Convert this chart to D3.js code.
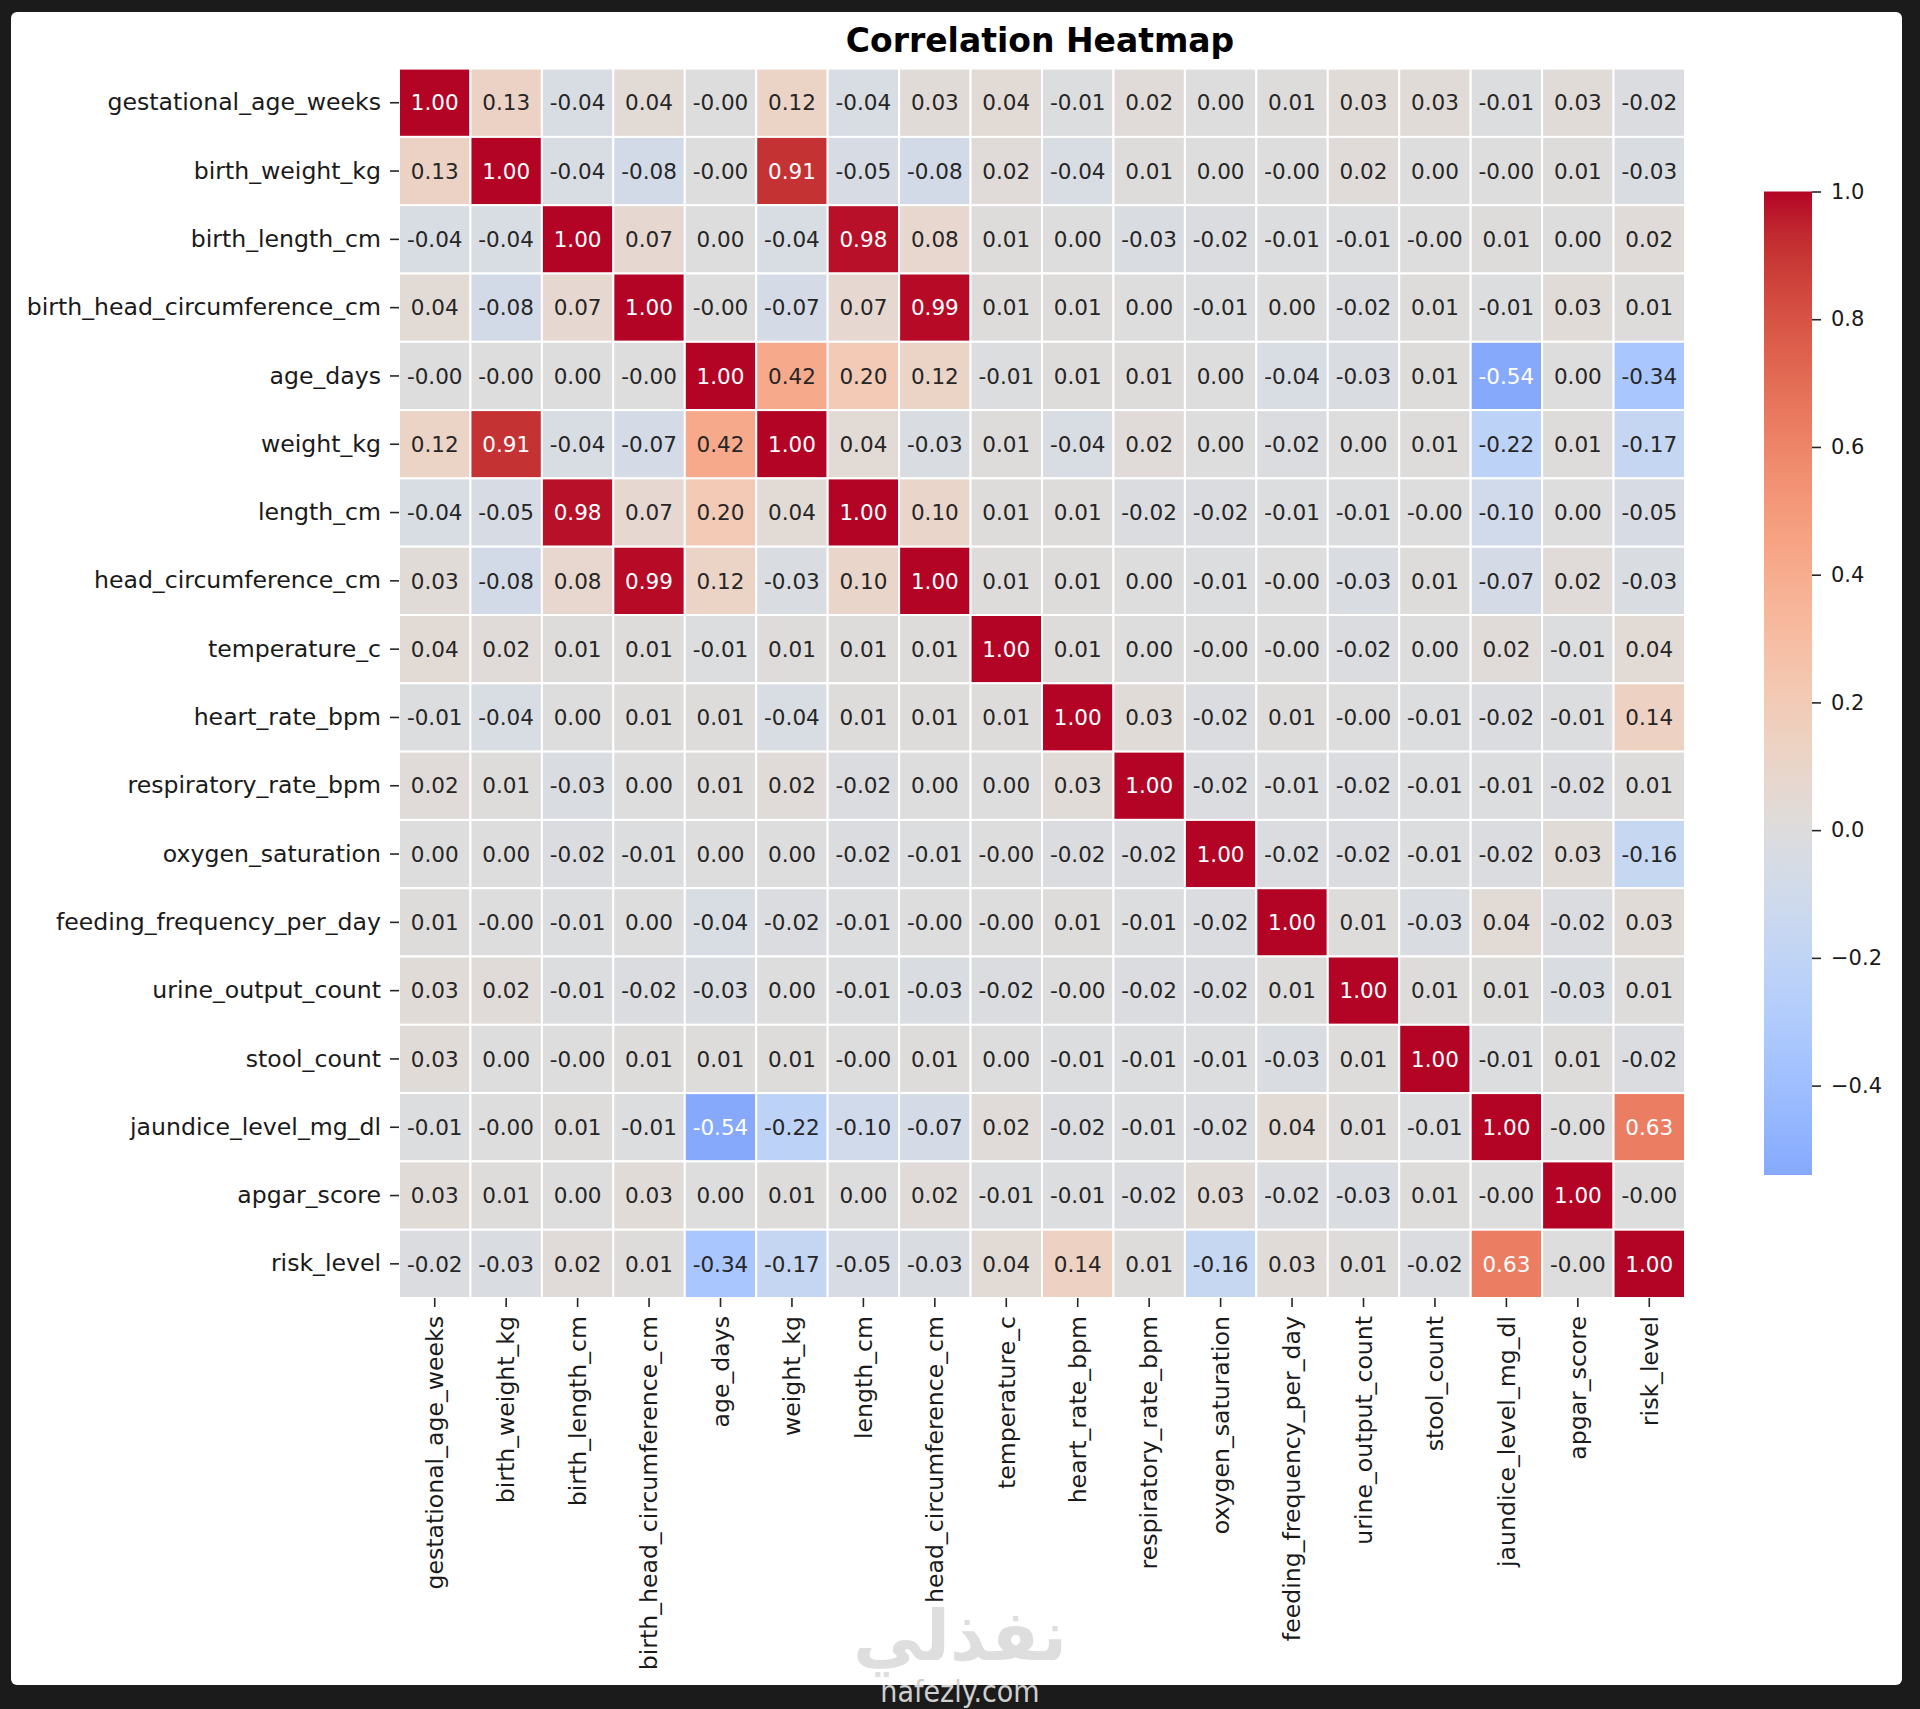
<!DOCTYPE html>
<html>
<head>
<meta charset="utf-8">
<script src="https://cdn.jsdelivr.net/npm/d3@7"></script>
<style>
body { margin: 0; background: #1b1b1b; }
text { font-family: "DejaVu Sans", sans-serif; }
</style>
</head>
<body>
<script>
// variables in the order of the correlation matrix
var labels = ["gestational_age_weeks", "birth_weight_kg", "birth_length_cm", "birth_head_circumference_cm",
  "age_days", "weight_kg", "length_cm", "head_circumference_cm", "temperature_c", "heart_rate_bpm",
  "respiratory_rate_bpm", "oxygen_saturation", "feeding_frequency_per_day", "urine_output_count",
  "stool_count", "jaundice_level_mg_dl", "apgar_score", "risk_level"];

// -0.003 stands for cells printed as "-0.00"
var corr = [
  [1.00, 0.13, -0.04, 0.04, -0.003, 0.12, -0.04, 0.03, 0.04, -0.01, 0.02, 0.00, 0.01, 0.03, 0.03, -0.01, 0.03, -0.02],
  [0.13, 1.00, -0.04, -0.08, -0.003, 0.91, -0.05, -0.08, 0.02, -0.04, 0.01, 0.00, -0.003, 0.02, 0.00, -0.003, 0.01, -0.03],
  [-0.04, -0.04, 1.00, 0.07, 0.00, -0.04, 0.98, 0.08, 0.01, 0.00, -0.03, -0.02, -0.01, -0.01, -0.003, 0.01, 0.00, 0.02],
  [0.04, -0.08, 0.07, 1.00, -0.003, -0.07, 0.07, 0.99, 0.01, 0.01, 0.00, -0.01, 0.00, -0.02, 0.01, -0.01, 0.03, 0.01],
  [-0.003, -0.003, 0.00, -0.003, 1.00, 0.42, 0.20, 0.12, -0.01, 0.01, 0.01, 0.00, -0.04, -0.03, 0.01, -0.54, 0.00, -0.34],
  [0.12, 0.91, -0.04, -0.07, 0.42, 1.00, 0.04, -0.03, 0.01, -0.04, 0.02, 0.00, -0.02, 0.00, 0.01, -0.22, 0.01, -0.17],
  [-0.04, -0.05, 0.98, 0.07, 0.20, 0.04, 1.00, 0.10, 0.01, 0.01, -0.02, -0.02, -0.01, -0.01, -0.003, -0.10, 0.00, -0.05],
  [0.03, -0.08, 0.08, 0.99, 0.12, -0.03, 0.10, 1.00, 0.01, 0.01, 0.00, -0.01, -0.003, -0.03, 0.01, -0.07, 0.02, -0.03],
  [0.04, 0.02, 0.01, 0.01, -0.01, 0.01, 0.01, 0.01, 1.00, 0.01, 0.00, -0.003, -0.003, -0.02, 0.00, 0.02, -0.01, 0.04],
  [-0.01, -0.04, 0.00, 0.01, 0.01, -0.04, 0.01, 0.01, 0.01, 1.00, 0.03, -0.02, 0.01, -0.003, -0.01, -0.02, -0.01, 0.14],
  [0.02, 0.01, -0.03, 0.00, 0.01, 0.02, -0.02, 0.00, 0.00, 0.03, 1.00, -0.02, -0.01, -0.02, -0.01, -0.01, -0.02, 0.01],
  [0.00, 0.00, -0.02, -0.01, 0.00, 0.00, -0.02, -0.01, -0.003, -0.02, -0.02, 1.00, -0.02, -0.02, -0.01, -0.02, 0.03, -0.16],
  [0.01, -0.003, -0.01, 0.00, -0.04, -0.02, -0.01, -0.003, -0.003, 0.01, -0.01, -0.02, 1.00, 0.01, -0.03, 0.04, -0.02, 0.03],
  [0.03, 0.02, -0.01, -0.02, -0.03, 0.00, -0.01, -0.03, -0.02, -0.003, -0.02, -0.02, 0.01, 1.00, 0.01, 0.01, -0.03, 0.01],
  [0.03, 0.00, -0.003, 0.01, 0.01, 0.01, -0.003, 0.01, 0.00, -0.01, -0.01, -0.01, -0.03, 0.01, 1.00, -0.01, 0.01, -0.02],
  [-0.01, -0.003, 0.01, -0.01, -0.54, -0.22, -0.10, -0.07, 0.02, -0.02, -0.01, -0.02, 0.04, 0.01, -0.01, 1.00, -0.003, 0.63],
  [0.03, 0.01, 0.00, 0.03, 0.00, 0.01, 0.00, 0.02, -0.01, -0.01, -0.02, 0.03, -0.02, -0.03, 0.01, -0.003, 1.00, -0.003],
  [-0.02, -0.03, 0.02, 0.01, -0.34, -0.17, -0.05, -0.03, 0.04, 0.14, 0.01, -0.16, 0.03, 0.01, -0.02, 0.63, -0.003, 1.00]
];

var cbarTicks = [1.0, 0.8, 0.6, 0.4, 0.2, 0.0, -0.2, -0.4];

// coolwarm (Moreland) control colours
var coolwarm = ["#3b4cc0", "#445acc", "#4d68d7", "#5775e1", "#6282ea", "#6c8ef1", "#779af7", "#82a5fb",
  "#8db0fe", "#98b9ff", "#a3c2ff", "#aec9fd", "#b8d0f9", "#c2d5f4", "#ccd9ee", "#d5dbe6", "#dddddd",
  "#e5d8d1", "#ecd3c5", "#f1ccb8", "#f5c4ac", "#f7bba0", "#f7b194", "#f7a687", "#f49a7b", "#f18d6f",
  "#ec7f63", "#e57058", "#de604d", "#d55042", "#cb3e38", "#c0282f", "#b40426"];
var cmap = d3.piecewise(d3.interpolateRgb, coolwarm);

var W = 1920, H = 1709;
var hmLeft = 399, hmRight = 1685, hmTop = 68.6, hmBottom = 1298;

var vmin = d3.min(corr, function(r) { return d3.min(r); });
var vmax = 1.0;
// seaborn with center=0: map [-1,1] onto the full colormap
function color(v) { return cmap((v + 1) / 2); }

function lum(c) {
  var rgb = d3.rgb(c);
  var f = function(x) { x = x / 255; return x <= 0.03928 ? x / 12.92 : Math.pow((x + 0.055) / 1.055, 2.4); };
  return 0.2126 * f(rgb.r) + 0.7152 * f(rgb.g) + 0.0722 * f(rgb.b);
}

var svg = d3.select("body").append("svg")
  .attr("width", W)
  .attr("height", H);

svg.append("rect")
  .attr("x", 11).attr("y", 12)
  .attr("width", 1891).attr("height", 1673)
  .attr("rx", 6)
  .attr("fill", "#ffffff");

var x = d3.scaleBand().domain(labels).range([hmLeft, hmRight]);
var y = d3.scaleBand().domain(labels).range([hmTop, hmBottom]);

var cells = [];
corr.forEach(function(row, i) {
  row.forEach(function(v, j) { cells.push({r: labels[i], c: labels[j], v: v}); });
});

var g = svg.append("g");
g.selectAll("rect.cell")
  .data(cells)
  .enter()
  .append("rect")
  .attr("class", "cell")
  .attr("x", function(d) { return x(d.c); })
  .attr("y", function(d) { return y(d.r); })
  .attr("width", x.bandwidth())
  .attr("height", y.bandwidth())
  .attr("fill", function(d) { return color(d.v); })
  .attr("stroke", "#ffffff")
  .attr("stroke-width", 2);

g.selectAll("text.annot")
  .data(cells)
  .enter()
  .append("text")
  .attr("class", "annot")
  .attr("x", function(d) { return x(d.c) + x.bandwidth() / 2; })
  .attr("y", function(d) { return y(d.r) + y.bandwidth() / 2; })
  .attr("dy", "0.36em")
  .attr("text-anchor", "middle")
  .style("font-size", "21.5px")
  .attr("fill", function(d) { return lum(color(d.v)) > 0.408 ? "#262626" : "#ffffff"; })
  .text(function(d) { return d.v.toFixed(2); });

// row labels
var yAxis = svg.append("g")
  .attr("transform", "translate(" + hmLeft + ",0)")
  .call(d3.axisLeft(y).tickSize(9).tickPadding(9));
yAxis.select(".domain").remove();
yAxis.selectAll("line").attr("stroke", "#262626").attr("stroke-width", 1.6);
yAxis.selectAll("text")
  .attr("fill", "#1a1a1a")
  .style("font-size", "23.6px")
  .style("font-family", "DejaVu Sans");

// column labels, rotated
var xAxis = svg.append("g")
  .attr("transform", "translate(0," + hmBottom + ")")
  .call(d3.axisBottom(x).tickSize(9).tickPadding(9));
xAxis.select(".domain").remove();
xAxis.selectAll("line").attr("stroke", "#262626").attr("stroke-width", 1.6);
xAxis.selectAll("text")
  .attr("fill", "#1a1a1a")
  .style("font-size", "23.6px")
  .style("font-family", "DejaVu Sans")
  .attr("y", 0)
  .attr("x", -18)
  .attr("dy", "0.35em")
  .attr("transform", "rotate(-90)")
  .attr("text-anchor", "end");

// colorbar
var cbTop = 191.5, cbBottom = 1175, cbX = 1764, cbW = 48;
var cb = d3.scaleLinear().domain([vmin, vmax]).range([cbBottom, cbTop]);

var grad = svg.append("defs").append("linearGradient")
  .attr("id", "cbgrad")
  .attr("x1", 0).attr("y1", 1).attr("x2", 0).attr("y2", 0);
grad.selectAll("stop")
  .data(d3.range(0, 1.0001, 0.02))
  .enter()
  .append("stop")
  .attr("offset", function(t) { return t; })
  .attr("stop-color", function(t) { return color(vmin + t * (vmax - vmin)); });

svg.append("rect")
  .attr("x", cbX).attr("y", cbTop)
  .attr("width", cbW).attr("height", cbBottom - cbTop)
  .attr("fill", "url(#cbgrad)");

var cAxis = svg.append("g")
  .attr("transform", "translate(" + (cbX + cbW) + ",0)")
  .call(d3.axisRight(cb).tickValues(cbarTicks).tickFormat(d3.format(".1f")).tickSize(9).tickPadding(10));
cAxis.select(".domain").remove();
cAxis.selectAll("line").attr("stroke", "#262626").attr("stroke-width", 1.6);
cAxis.selectAll("text")
  .attr("fill", "#1a1a1a")
  .style("font-size", "21px")
  .style("font-family", "DejaVu Sans");

// title
svg.append("text")
  .attr("x", 1040)
  .attr("y", 52)
  .attr("text-anchor", "middle")
  .style("font-size", "33px")
  .style("font-weight", "bold")
  .attr("fill", "#000000")
  .text("Correlation Heatmap");

// watermark
svg.append("text")
  .attr("x", 960)
  .attr("y", 1660)
  .attr("text-anchor", "middle")
  .style("font-size", "70px")
  .style("font-weight", "bold")
  .attr("fill", "#dedede")
  .text("نفذلي");

svg.append("text")
  .attr("x", 960)
  .attr("y", 1702)
  .attr("text-anchor", "middle")
  .style("font-size", "30px")
  .style("font-family", "Liberation Sans Narrow, DejaVu Sans Condensed, sans-serif")
  .attr("fill", "#d0d0d0")
  .text("nafezly.com");
</script>
</body>
</html>
